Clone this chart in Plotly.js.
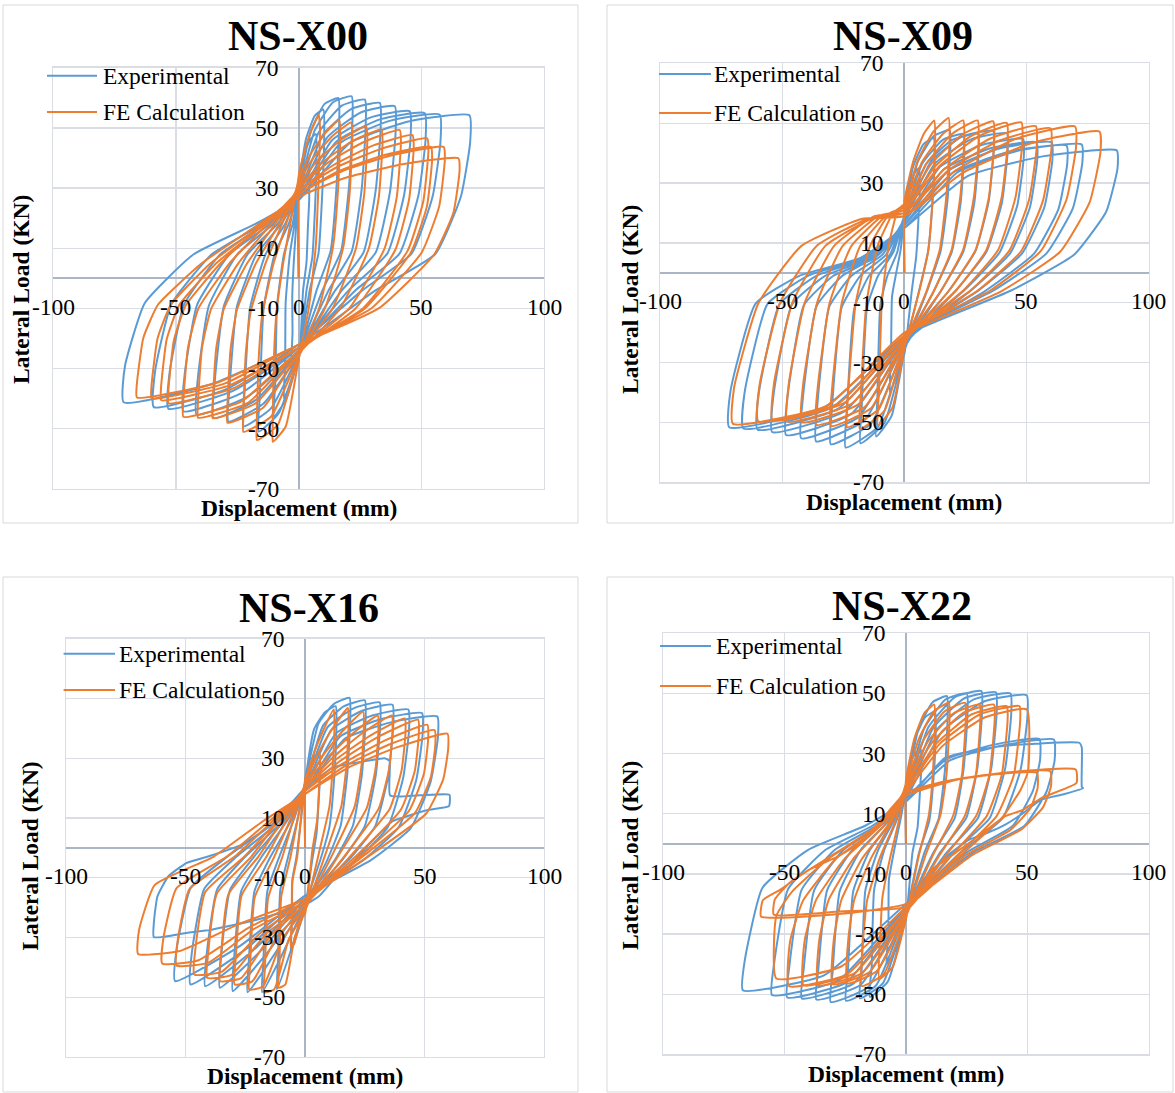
<!DOCTYPE html>
<html>
<head>
<meta charset="utf-8">
<script src="https://cdn.plot.ly/plotly-3.0.1.min.js"></script>
<style>
  html, body { margin: 0; padding: 0; background: #ffffff; }
  #chart { width: 1175px; height: 1093px; }
</style>
</head>
<body>
<div id="chart"></div>
<script>
// ---------- axis ticks, titles, series names ----------
const xTicks = [-100, -50, 0, 50, 100];
const yTicks = [-70, -50, -30, -10, 10, 30, 50, 70];
const specimens = ['NS-X00', 'NS-X09', 'NS-X16', 'NS-X22'];
const seriesNames = ['Experimental', 'FE Calculation'];
const xTitleText = 'Displacement (mm)';
const yTitleText = 'Lateral Load (KN)';

// ---------- hysteresis curves: [displacement (mm), lateral load (kN)] ----------
// NS-X00, experimental
const x00Exp = [
  [0,0],
  [0,33],[1.2,34.5],[2.6,34],[4,35],[4.3,26],[3.8,17.5],[3.2,5.3],[1.8,-4],[0,-27],[-1.5,-26],[-3,-30],[-2.5,-18],[-2.6,-6],[-1.8,8],[-0.8,20],
  [0,32],[2.1,41],[4.6,46],[7,48],[7.3,39],[6.7,24],[5.6,7.2],[3.2,-4],[0,-27],[-3,-34],[-6,-40],[-5.5,-28],[-5.3,-8],[-3.6,8],[-1.5,19],
  [0,31],[3,46.3],[6.6,54.1],[10.1,56.1],[10.4,47.1],[9.6,28],[8.1,8.4],[4.5,-4],[0,-26],[-5,-40],[-10,-46],[-9.5,-34],[-8.8,-9.2],[-6,8],[-2.5,18],
  [0,30],[4.9,48.7],[10.5,57.9],[16.2,59.9],[16.5,50.9],[15.4,30],[13,9],[7.3,-4],[0,-26],[-8.2,-44.9],[-16.3,-50.9],[-15.8,-38.9],[-14.3,-10.2],[-9.8,8],[-4.1,18],
  [0,29],[6.5,49.1],[14,58.5],[21.6,60.5],[21.9,51.5],[20.5,30.3],[17.3,9.1],[9.7,-4],[0,-25],[-11.3,-43.2],[-22.5,-49.2],[-22,-37.2],[-19.8,-9.8],[-13.5,8],[-5.6,18],
  [0,29],[8.1,48.4],[17.6,57.4],[27,59.4],[27.3,50.4],[25.7,29.7],[21.6,8.9],[12.2,-4],[0,-25],[-14.3,-41.6],[-28.6,-47.6],[-28.1,-35.6],[-25.2,-9.5],[-17.2,8],[-7.2,18],
  [0,28],[9.9,47.7],[21.5,56.3],[33.1,58.3],[33.4,49.3],[31.4,29.2],[26.5,8.7],[14.9,-4],[0,-24],[-17.4,-40.4],[-34.7,-46.4],[-34.2,-34.4],[-30.5,-9.3],[-20.8,8],[-8.7,18],
  [0,28],[11.8,47],[25.5,55.2],[39.2,57.2],[39.5,48.2],[37.2,28.6],[31.4,8.6],[17.6,-4],[0,-24],[-20.8,-39.3],[-41.6,-45.3],[-41.1,-33.3],[-36.6,-9.1],[-25,8],[-10.4,18],
  [0,27],[13.6,45.9],[29.4,53.5],[45.3,55.5],[45.6,46.5],[43,27.8],[36.2,8.3],[20.4,-4],[0,-23],[-23.5,-38.2],[-47,-44.2],[-46.5,-32.2],[-41.4,-8.8],[-28.2,8],[-11.8,18],
  [0,27],[15.4,45.5],[33.4,52.9],[51.4,54.9],[51.7,45.9],[48.8,27.5],[41.1,8.2],[23.1,-4],[0,-23],[-26.6,-37.3],[-53.1,-43.3],[-52.6,-31.3],[-46.7,-8.7],[-31.9,8],[-13.3,18],
  [0,26],[17.3,45.2],[37.4,52.4],[57.5,54.4],[57.8,45.4],[54.6,27.2],[46,8.2],[25.9,-4],[0,-22],[-29.5,-36.8],[-59,-42.8],[-58.5,-30.8],[-51.9,-8.6],[-35.4,8],[-14.8,18],
  [0,26],[20.9,45],[45.2,52.2],[69.6,54.2],[69.9,45.2],[66.1,27.1],[55.7,8.1],[31.3,-4],[0,-22],[-35.7,-35.2],[-71.3,-41.2],[-70.8,-29.2],[-62.7,-8.2],[-42.8,8],[-17.8,18],[0,26]
];
// NS-X00, FE calculation
const x00Fe = [
  [0,0],
  [0,34],[2.5,42.5],[5.3,49.4],[8.2,54.3],[8.7,50.3],[8,29.9],[7,10.9],[4.1,-10],[0,-27],[-5.3,-49.3],[-10.5,-54.3],[-10.6,-50.3],[-10.1,-27.2],[-9.1,-11.9],[-6.3,5],[-3.2,19],
  [0,33],[5,41.5],[10.7,48.1],[16.5,52.6],[17,48.6],[16,28.9],[14,10.5],[8.3,-10],[0,-26],[-8.5,-48.7],[-17,-53.7],[-17.1,-49.7],[-16.3,-26.9],[-14.8,-11.8],[-10.2,5],[-5.1,18],
  [0,32],[6.4,40.5],[13.9,47.4],[21.4,51.8],[21.9,47.8],[20.8,28.5],[18.2,10.4],[10.7,-10],[0,-26],[-11.3,-46],[-22.5,-51],[-22.6,-47],[-21.6,-25.5],[-19.6,-11.2],[-13.5,5],[-6.8,18],
  [0,31],[8.3,39.7],[17.9,46.4],[27.5,50.5],[28,46.5],[26.7,27.8],[23.4,10.1],[13.8,-10],[0,-25],[-14.5,-43],[-29,-48],[-29.1,-44],[-27.8,-24],[-25.2,-10.6],[-17.4,5],[-8.7,17],
  [0,30],[10.1,38.8],[21.9,45.6],[33.7,49.5],[34.2,45.5],[32.7,27.2],[28.6,9.9],[16.9,-10],[0,-25],[-17.5,-41.5],[-35,-46.5],[-35.1,-42.5],[-33.6,-23.3],[-30.5,-10.2],[-21,5],[-10.5,17],
  [0,30],[12.4,38.7],[26.8,45.4],[41.2,49.3],[41.7,45.3],[40,27.1],[35,9.9],[20.6,-10],[0,-24],[-20.5,-41.3],[-41,-46.3],[-41.1,-42.3],[-39.4,-23.2],[-35.7,-10.2],[-24.6,5],[-12.3,17],
  [0,29],[13.9,37.5],[30.2,44.1],[46.4,47.6],[46.9,43.6],[45,26.2],[39.4,9.5],[23.2,-10],[0,-24],[-23.5,-41],[-47,-46],[-47.1,-42],[-45.1,-23],[-40.9,-10.1],[-28.2,5],[-14.1,17],
  [0,29],[15.7,37],[34.1,43.2],[52.4,46.5],[52.9,42.5],[50.8,25.6],[44.5,9.3],[26.2,-10],[0,-23],[-26.5,-36.5],[-53,-41.5],[-53.1,-37.5],[-50.9,-20.8],[-46.1,-9.1],[-31.8,5],[-15.9,17],
  [0,28],[16.2,35.6],[35,41],[53.9,43.7],[54.4,39.7],[52.3,24],[45.8,8.7],[27,-10],[0,-23],[-28,-35.5],[-56,-40.5],[-56.1,-36.5],[-53.8,-20.3],[-48.7,-8.9],[-33.6,5],[-16.8,16],
  [0,28],[17.7,35.6],[38.4,41],[59.1,43.7],[59.6,39.7],[57.3,24],[50.2,8.7],[29.6,-10],[0,-22],[-30,-34.9],[-59.9,-39.9],[-60,-35.9],[-57.5,-20],[-52.1,-8.8],[-35.9,5],[-18,16],
  [0,27],[19.5,33.5],[42.3,37.9],[65.1,39.9],[65.6,35.9],[63.1,21.9],[55.3,8],[32.6,-10],[0,-22],[-33,-34.6],[-65.9,-39.6],[-66,-35.6],[-63.3,-19.8],[-57.3,-8.7],[-39.5,5],[-19.8,16],[0,27]
];
// NS-X09, experimental
const x09Exp = [
  [0,0],
  [0,21],[1.8,30],[3.9,33],[6,35],[6.3,29],[5.7,17.5],[4.8,5.3],[3,-6],[0,-27],[-2.7,-33],[-6,-40],[-5.5,-28],[-5.1,-8],[-3.6,-1],[-1.5,8],
  [0,20],[3.6,35.6],[7.8,43],[12,45],[12.3,39],[11.4,22.5],[9.6,6.8],[6,-6],[0,-26],[-5.2,-47.7],[-11.6,-54.7],[-11.1,-42.7],[-9.9,-10.9],[-7,-1],[-2.9,7],
  [0,20],[5.6,37.3],[12,45.7],[18.5,47.7],[18.8,41.7],[17.6,23.9],[14.8,7.2],[9.3,-6],[0,-26],[-8.1,-50],[-18,-57],[-17.5,-45],[-15.3,-11.4],[-10.8,-1],[-4.5,7],
  [0,19],[7.3,36.5],[15.7,44.4],[24.2,46.4],[24.5,40.4],[23,23.2],[19.4,7],[12.1,-6],[0,-25],[-10.8,-51.4],[-24.1,-58.4],[-23.6,-46.4],[-20.5,-11.7],[-14.5,-1],[-6,6],
  [0,19],[9,36.5],[19.6,44.4],[30.1,46.4],[30.4,40.4],[28.6,23.2],[24.1,7],[15,-6],[0,-25],[-13.6,-50.3],[-30.2,-57.3],[-29.7,-45.3],[-25.7,-11.5],[-18.1,-1],[-7.6,6],
  [0,18],[10.9,37.2],[23.6,45.5],[36.3,47.5],[36.6,41.5],[34.5,23.8],[29,7.1],[18.2,-6],[0,-24],[-16.3,-49.3],[-36.2,-56.3],[-35.7,-44.3],[-30.8,-11.3],[-21.7,-1],[-9.1,6],
  [0,18],[12.6,36.6],[27.3,44.6],[42,46.6],[42.3,40.6],[39.9,23.3],[33.6,7],[21,-6],[0,-24],[-19,-48.3],[-42.3,-55.3],[-41.8,-43.3],[-36,-11.1],[-25.4,-1],[-10.6,6],
  [0,17],[14.6,35.4],[31.6,42.7],[48.6,44.7],[48.9,38.7],[46.2,22.4],[38.9,6.7],[24.3,-6],[0,-23],[-21.8,-47.2],[-48.5,-54.2],[-48,-42.2],[-41.2,-10.8],[-29.1,-1],[-12.1,5],
  [0,17],[16.2,34.6],[35.2,41.6],[54.1,43.6],[54.4,37.6],[51.4,21.8],[43.3,6.5],[27.1,-6],[0,-23],[-24.4,-46.2],[-54.2,-53.2],[-53.7,-41.2],[-46.1,-10.6],[-32.5,-1],[-13.6,5],
  [0,16],[18.1,34.2],[39.2,41.6],[60.3,43.6],[60.6,37.6],[57.3,21.8],[48.2,6.5],[30.2,-6],[0,-22],[-27.1,-45.4],[-60.2,-52.4],[-59.7,-40.4],[-51.2,-10.5],[-36.1,-1],[-15.1,5],
  [0,16],[19.9,33.5],[43.2,40.5],[66.4,42.5],[66.7,36.5],[63.1,21.3],[53.1,6.4],[33.2,-6],[0,-22],[-29.7,-45],[-66,-52],[-65.5,-40],[-56.1,-10.4],[-39.6,-1],[-16.5,5],
  [0,15],[21.8,33.6],[47.2,40.9],[72.6,42.9],[72.9,36.9],[69,21.5],[58.1,6.4],[36.3,-6],[0,-21],[-32.3,-44.6],[-71.8,-51.6],[-71.3,-39.6],[-61,-10.3],[-43.1,-1],[-18,5],
  [0,15],[26.1,32.4],[56.6,38.9],[87,40.9],[87.3,34.9],[82.7,20.5],[69.6,6.1],[43.5,-6],[0,-21],[-10.9,-30]
];
// NS-X09, FE calculation
const x09Fe = [
  [0,0],
  [0,24],[3.7,37.5],[7.9,46.4],[12.2,50.9],[12.6,43.9],[11.6,25.5],[9.8,7.6],[6.1,-6],[0,-25],[-4.9,-45],[-10.9,-51],[-10.4,-39],[-9.3,-10.2],[-6.5,9],[-2.7,21],
  [0,23],[5.4,37.4],[11.8,47.1],[18.1,51.7],[18.5,44.7],[17.2,25.9],[14.5,7.8],[9.1,-6],[0,-24],[-8.2,-46.1],[-18.3,-52.1],[-17.8,-40.1],[-15.6,-10.4],[-11,9],[-4.6,20],
  [0,23],[7.2,37],[15.7,46.4],[24.1,50.9],[24.5,43.9],[22.9,25.5],[19.3,7.6],[12.1,-6],[0,-24],[-10.6,-45.6],[-23.5,-51.6],[-23,-39.6],[-20,-10.3],[-14.1,9],[-5.9,20],
  [0,22],[9,36.5],[19.5,46.4],[30,50.9],[30.4,43.9],[28.5,25.5],[24,7.6],[15,-6],[0,-23],[-13.6,-45.2],[-30.2,-51.2],[-29.7,-39.2],[-25.7,-10.2],[-18.1,9],[-7.6,19],
  [0,22],[10.9,36.3],[23.7,46.2],[36.4,50.6],[36.8,43.6],[34.6,25.3],[29.1,7.6],[18.2,-6],[0,-23],[-16.2,-44.8],[-36.1,-50.8],[-35.6,-38.8],[-30.7,-10.2],[-21.7,9],[-9,19],
  [0,21],[12.6,35.6],[27.2,45.7],[41.9,50.1],[42.3,43.1],[39.8,25.1],[33.5,7.5],[21,-6],[0,-22],[-18.9,-43.9],[-42.1,-49.9],[-41.6,-37.9],[-35.8,-10],[-25.3,9],[-10.5,19],
  [0,21],[14.4,35.7],[31.1,45.9],[47.9,50.3],[48.3,43.3],[45.5,25.2],[38.3,7.5],[24,-6],[0,-22],[-21.6,-43.7],[-48,-49.7],[-47.5,-37.7],[-40.8,-9.9],[-28.8,9],[-12,19],
  [0,20],[16.1,34.5],[35,44.8],[53.8,49],[54.2,42],[51.1,24.5],[43,7.4],[26.9,-6],[0,-21],[-24.3,-43.3],[-54,-49.3],[-53.5,-37.3],[-45.9,-9.9],[-32.4,9],[-13.5,18],
  [0,20],[17.9,34.2],[38.9,44.2],[59.8,48.3],[60.2,41.3],[56.8,24.2],[47.8,7.2],[29.9,-6],[0,-21],[-27,-43.6],[-59.9,-49.6],[-59.4,-37.6],[-50.9,-9.9],[-35.9,9],[-15,18],
  [0,19],[21,34.2],[45.4,44.7],[69.9,48.9],[70.3,41.9],[66.4,24.5],[55.9,7.3],[35,-6],[0,-20],[-31.6,-44.4],[-70.3,-50.4],[-69.8,-38.4],[-59.8,-10.1],[-42.2,9],[-17.6,18],
  [0,19],[24,33.5],[51.9,43.3],[79.9,47.2],[80.3,40.2],[75.9,23.6],[63.9,7.1],[40,-6],[0,-20]
];
// NS-X16, experimental
const x16Exp = [
  [0,0],
  [0,23],[1.8,29.5],[3.9,30.5],[6,32],[6.3,25],[5.7,16],[4.8,4.8],[3,-4],[0,-20],[-3,-28],[-6,-35],[-5.5,-25],[-5.3,-10.5],[-3.6,-3],[-1.5,11],
  [0,22],[3.8,39.8],[8.3,45.4],[12.8,47.4],[13.1,40.4],[12.2,23.7],[10.2,7.1],[6.4,-4],[0,-19],[-5.9,-34.2],[-11.8,-47.4],[-11.3,-37.4],[-10.4,-14.2],[-7.1,-3],[-3,10],
  [0,22],[5.6,41.6],[12.1,48.2],[18.6,50.2],[18.9,43.2],[17.7,25.1],[14.9,7.5],[9.3,-4],[0,-19],[-9,-34.7],[-18,-48.3],[-17.5,-38.3],[-15.8,-14.5],[-10.8,-3],[-4.5,10],
  [0,21],[7.5,40.9],[16.3,47.4],[25,49.4],[25.3,42.4],[23.8,24.7],[20,7.4],[12.5,-4],[0,-18],[-12.1,-34.7],[-24.1,-48.3],[-23.6,-38.3],[-21.2,-14.5],[-14.5,-3],[-6,9],
  [0,21],[9.4,40.4],[20.3,46.7],[31.2,48.7],[31.5,41.7],[29.6,24.4],[25,7.3],[15.6,-4],[0,-18],[-15.2,-34.5],[-30.3,-47.9],[-29.8,-37.9],[-26.7,-14.4],[-18.2,-3],[-7.6,9],
  [0,20],[11,39.5],[23.8,45.9],[36.6,47.9],[36.9,40.9],[34.8,24],[29.3,7.2],[18.3,-4],[0,-17],[-17.9,-33.9],[-35.7,-46.8],[-35.2,-36.8],[-31.4,-14],[-21.4,-3],[-8.9,9],
  [0,20],[13,38.4],[28.1,44.3],[43.2,46.3],[43.5,39.3],[41,23.2],[34.6,6.9],[21.6,-4],[0,-17],[-20.9,-33.7],[-41.8,-46.3],[-41.3,-36.3],[-36.8,-13.9],[-25.1,-3],[-10.5,8],
  [0,19],[14.7,37.3],[31.8,43.1],[48.9,45.1],[49.2,38.1],[46.5,22.6],[39.1,6.8],[24.5,-4],[0,-16],[-24,-33.4],[-48,-45.7],[-47.5,-35.7],[-42.2,-13.7],[-28.8,-3],[-12,8],
  [0,19],[16.6,36.5],[35.9,42],[55.3,44],[55.6,37],[52.5,22],[44.2,6.6],[27.7,-4],[0,-16],[-27.2,-32.8],[-54.4,-44.6],[-53.9,-34.6],[-47.9,-13.4],[-32.6,-3],[-13.6,8],
  [0,20],[12,27],[25,29],[33.3,30],[35.4,29],[35.6,17.5],[48,17.6],[60.4,17.8],[60.6,15.5],[60.2,13.9],[51,12.6],[42.7,10.6],[36.6,8.9],[27.4,1.7],[19.7,-5],[12,-10.6],[5.8,-16.2],[0,-19],
  [-20,-24],[-38.7,-27.3],[-50,-28.5],[-63.3,-29.9],[-63.3,-25],[-61.8,-16.2],[-57.2,-9.5],[-49.5,-5],[-40.3,-2.8],[-26.4,1.1],[-12,9],[0,19]
];
// NS-X16, FE calculation
const x16Fe = [
  [0,0],
  [0,23],[1.8,26.5],[3.9,29.5],[6,32],[6.3,27],[5.8,19.2],[5.1,9.6],[3,-1],[0,-22],[-2.4,-24.6],[-4.5,-32],[-6,-33],[-5.6,-25],[-5.4,-11.6],[-3.3,-3],[-1.5,12],
  [0,22],[3.6,31.5],[7.8,39.7],[12,46.3],[12.3,41.3],[11.6,27.8],[10.2,13.9],[6,-1],[0,-21],[-4.4,-30.1],[-8.3,-45.8],[-11.1,-46.8],[-10.7,-38.8],[-10,-16.4],[-6.1,-3],[-2.8,11],
  [0,22],[5.4,31.5],[11.6,40.1],[17.9,46.8],[18.2,41.8],[17.4,28.1],[15.2,14],[9,-1],[0,-21],[-6.9,-30.7],[-12.9,-47.3],[-17.2,-48.3],[-16.8,-40.3],[-15.5,-16.9],[-9.5,-3],[-4.3,11],
  [0,21],[7.3,30.7],[15.8,39.2],[24.3,45.6],[24.6,40.6],[23.6,27.4],[20.7,13.7],[12.2,-1],[0,-20],[-9.4,-30.4],[-17.6,-46.4],[-23.4,-47.4],[-23,-39.4],[-21.1,-16.6],[-12.9,-3],[-5.9,10],
  [0,21],[9.1,30],[19.8,38.2],[30.4,44.3],[30.7,39.3],[29.5,26.6],[25.8,13.3],[15.2,-1],[0,-20],[-11.8,-29.7],[-22.1,-44.7],[-29.5,-45.7],[-29.1,-37.7],[-26.6,-16],[-16.2,-3],[-7.4,10],
  [0,20],[10.9,29.7],[23.6,38.2],[36.3,44.3],[36.6,39.3],[35.2,26.6],[30.9,13.3],[18.2,-1],[0,-19],[-14.3,-29.2],[-26.8,-43.6],[-35.7,-44.6],[-35.3,-36.6],[-32.1,-15.6],[-19.6,-3],[-8.9,10],
  [0,20],[12.5,29.3],[27.1,37.5],[41.7,43.3],[42,38.3],[40.4,26],[35.4,13],[20.9,-1],[0,-19],[-16.4,-28.8],[-30.8,-42.5],[-41,-43.5],[-40.6,-35.5],[-36.9,-15.2],[-22.6,-3],[-10.3,10],
  [0,19],[14.2,28.8],[30.7,37.2],[47.3,42.9],[47.6,37.9],[45.9,25.7],[40.2,12.9],[23.7,-1],[0,-18],[-18.6,-28.4],[-34.8,-41.4],[-46.4,-42.4],[-46,-34.4],[-41.8,-14.8],[-25.5,-3],[-11.6,9],
  [0,19],[15.4,28],[33.3,35.9],[51.2,41.2],[51.5,36.2],[49.7,24.7],[43.5,12.4],[25.6,-1],[0,-18],[-21.5,-27.2],[-40.4,-38.4],[-53.8,-39.4],[-53.4,-31.4],[-48.4,-13.8],[-29.6,-3],[-13.5,9],
  [0,18],[16.3,27.2],[35.2,34.6],[54.2,39.4],[54.5,34.4],[52.6,23.6],[46.1,11.8],[27.1,-1],[0,-17],[-23.9,-26.9],[-44.9,-37.7],[-59.8,-38.7],[-59.4,-30.7],[-53.8,-13.5],[-32.9,-3],[-15,9],
  [0,18],[17.9,26.8],[38.7,33.7],[59.6,38.2],[59.9,33.2],[57.8,22.9],[50.7,11.5],[29.8,-1],[0,-17],[-28,-25.6],[-52.4,-34.5],[-69.9,-35.5],[-69.5,-27.5],[-62.9,-12.4],[-38.4,-3],[-17.5,9],[0,18]
];
// NS-X22, experimental
const x22Exp = [
  [0,0],
  [0,19],[1.8,27.5],[3.9,30],[6,32],[6.3,25],[5.7,16],[4.8,5.4],[2.7,-3],[0,-25],[-4,-35],[-8,-40],[-7.2,-30],[-7,-12],[-4.8,-2],[-2,9],
  [0,18],[3.6,34.5],[7.8,42],[12,44],[12.3,37],[11.4,22],[9.6,7.5],[5.4,-3],[0,-24],[-7.5,-45.9],[-14.9,-50.9],[-14.1,-40.9],[-13.1,-15.3],[-8.9,-2],[-3.7,8],
  [0,18],[5.1,38],[11,47.1],[16.9,49.1],[17.2,42.1],[16.1,24.6],[13.5,8.3],[7.6,-3],[0,-24],[-9.5,-46.4],[-19,-51.4],[-18.2,-41.4],[-16.7,-15.4],[-11.4,-2],[-4.8,8],
  [0,17],[7.5,38.3],[16.3,48],[25.1,50],[25.4,43],[23.8,25],[20.1,8.5],[11.3,-3],[0,-23],[-12.4,-47.2],[-24.7,-52.2],[-23.9,-42.2],[-21.7,-15.7],[-14.8,-2],[-6.2,7],
  [0,17],[9.3,38.8],[20.2,48.8],[31.1,50.8],[31.4,43.8],[29.5,25.4],[24.9,8.6],[14,-3],[0,-23],[-15.5,-47.6],[-31,-52.6],[-30.2,-42.6],[-27.3,-15.8],[-18.6,-2],[-7.8,7],
  [0,16],[11.1,38.4],[24.1,48.4],[37.1,50.4],[37.4,43.4],[35.2,25.2],[29.7,8.6],[16.7,-3],[0,-22],[-18.5,-46.8],[-36.9,-51.8],[-36.1,-41.8],[-32.5,-15.5],[-22.1,-2],[-9.2,7],
  [0,16],[12.9,38.1],[28,48],[43.1,50],[43.4,43],[40.9,25],[34.5,8.5],[19.4,-3],[0,-22],[-21.5,-46.4],[-42.9,-51.4],[-42.1,-41.4],[-37.8,-15.4],[-25.7,-2],[-10.7,6],
  [0,15],[14.9,37.4],[32.4,47.4],[49.8,49.4],[50.1,42.4],[47.3,24.7],[39.8,8.4],[22.4,-3],[0,-21],[-24.5,-46.1],[-48.9,-51.1],[-48.1,-41.1],[-43,-15.3],[-29.3,-2],[-12.2,6],
  [0,15],[16.5,28],[35.8,32.9],[55,34.9],[55.3,27.9],[52.3,17.5],[44,5.9],[24.8,-3],[0,-21],[-27.6,-45.3],[-55.2,-50.3],[-54.4,-40.3],[-48.6,-15.1],[-33.1,-2],[-13.8,6],
  [0,14],[18.3,27.8],[39.7,32.7],[61,34.7],[61.3,27.7],[58,17.4],[48.8,5.9],[27.5,-3],[0,-20],[-33.6,-43.7],[-67.2,-48.7],[-66.4,-38.7],[-59.1,-14.6],[-40.3,-2],[-16.8,6],
  [0,14],[16,28.5],[40,32.5],[71.5,33.6],[72.5,32],[72.5,19],[73,18.5],[65,16.5],[55.8,14.7],[48.3,10.2],[40.8,6.3],[33.4,3.6],[25.9,1.3],[18.4,-3.1],[10.9,-8.7],[4.9,-14.2],[1.2,-19.8]
];
// NS-X22, FE calculation
const x22Fe = [
  [0,0],
  [0,21],[3.5,35],[7.6,43.5],[11.7,46.3],[12,41.3],[11.1,23.2],[9.4,9.3],[5.3,-4],[0,-25],[-5.5,-41],[-11,-45],[-10.5,-30],[-9.7,-18],[-6.6,-5],[-2.8,8],
  [0,20],[5.3,34.8],[11.5,44],[17.7,46.9],[18,41.9],[16.8,23.5],[14.2,9.4],[8,-4],[0,-24],[-9.1,-43.3],[-18.2,-47.3],[-17.7,-32.3],[-16,-18.9],[-10.9,-5],[-4.6,7],
  [0,20],[7.3,34.6],[15.9,44],[24.4,46.9],[24.7,41.9],[23.2,23.5],[19.5,9.4],[11,-4],[0,-24],[-12.1,-42.4],[-24.2,-46.4],[-23.7,-31.4],[-21.3,-18.6],[-14.5,-5],[-6.1,7],
  [0,19],[9.1,34],[19.8,43.5],[30.4,46.3],[30.7,41.3],[28.9,23.2],[24.3,9.3],[13.7,-4],[0,-23],[-15.1,-42.7],[-30.2,-46.7],[-29.7,-31.7],[-26.6,-18.7],[-18.1,-5],[-7.6,6],
  [0,19],[10.9,33.8],[23.6,43.5],[36.3,46.3],[36.6,41.3],[34.5,23.2],[29,9.3],[16.3,-4],[0,-23],[-18.1,-43],[-36.2,-47],[-35.7,-32],[-31.9,-18.8],[-21.7,-5],[-9.1,6],
  [0,18],[12.5,33.3],[27,43],[41.6,45.8],[41.9,40.8],[39.5,22.9],[33.3,9.2],[18.7,-4],[0,-22],[-21.1,-43],[-42.2,-47],[-41.7,-32],[-37.1,-18.8],[-25.3,-5],[-10.6,6],
  [0,18],[14,33.3],[30.4,43],[46.8,45.8],[47.1,40.8],[44.5,22.9],[37.4,9.2],[21.1,-4],[0,-22],[-24.1,-43.3],[-48.2,-47.3],[-47.7,-32.3],[-42.4,-18.9],[-28.9,-5],[-12.1,5],
  [0,17],[14.9,32.4],[32.4,42],[49.8,44.7],[50.3,24],[47.3,18],[39.8,8.9],[22.4,-4],[0,-21],[-26.7,-40.8],[-53.4,-44.8],[-53.4,-24],[-47,-16],[-32,-5],[-13.4,5],
  [0,17],[16.2,20.8],[35.1,23],[54,23.6],[54.3,18.6],[51.3,11.8],[43.2,4.7],[24.3,-4],[0,-21],[-27.3,-22.5],[-54.5,-23.5],[-54,-18.5],[-48,-13],[-32.7,-5],[-13.6,5],
  [0,16],[17.9,21],[38.7,23.5],[59.5,24.1],[59.8,19.1],[56.5,12.1],[47.6,4.8],[26.8,-4],[0,-20],[-29.9,-23.5],[-59.7,-24.2],[-58.9,-18.7],[-51.9,-15.3],[-40,-8.7],[-28,-4.2],[-19,0.2],[-10,6.9],[-4,12.4],
  [0,16],[21,21.3],[45.5,24],[70,24.7],[70.3,20.2],[55.8,15.2],[48.3,11.3],[40.8,9.1],[33.4,4.7],[25.9,0.2],[18.4,-4.2],[10.9,-8.7],[6.4,-16.4],[1.9,-20.9]
];

const expSeries = [x00Exp, x09Exp, x16Exp, x22Exp];
const feSeries  = [x00Fe,  x09Fe,  x16Fe,  x22Fe];

// ---------- page geometry (pixels) ----------
const W = 1175, H = 1093;
const panels = [
  { frame: [3, 5, 578, 523],       plot: [53.3, 67.7, 544, 489],       title: [298, 36],  xTitle: [299, 508],  yTitle: [21, 290],   leg: { x0: 47,   x1: 97,  y: [75.7, 112],  tx: 101 } },
  { frame: [607, 5, 1173, 523],    plot: [660.4, 63.3, 1148.5, 482.3], title: [903, 36],  xTitle: [904, 502],  yTitle: [630, 300],  leg: { x0: 659,  x1: 711, y: [74, 113],    tx: 712 } },
  { frame: [3, 577, 578, 1092],    plot: [66.2, 638.7, 544, 1057],     title: [309, 608], xTitle: [305, 1076], yTitle: [29.6, 856], leg: { x0: 63.6, x1: 115, y: [653.7, 690], tx: 117 } },
  { frame: [607, 577, 1173, 1092], plot: [663.3, 633.3, 1148.5, 1054.3], title: [902, 606], xTitle: [906, 1074], yTitle: [630, 856], leg: { x0: 660,  x1: 711, y: [646, 686],   tx: 714 } }
];

const FONT = '"Liberation Serif", "Times New Roman", Times, serif';
const BLUE = '#5B9BD5', ORANGE = '#ED7D31';
const GRID = '#dadde3', AXIS = '#aab5c6', FRAME = '#d9d9d9';
const px = x => x / W;
const py = y => 1 - y / H;

const traces = [];
const layout = {
  width: W, height: H,
  margin: { l: 0, r: 0, t: 0, b: 0 },
  paper_bgcolor: '#ffffff', plot_bgcolor: 'rgba(0,0,0,0)',
  showlegend: false,
  shapes: [], annotations: []
};

const tickFont = { family: FONT, size: 23.5, color: '#000000' };
const legFont = { family: FONT, size: 23.5, color: '#000000' };
const axTitleFont = { family: FONT, size: 23.5, color: '#000000', weight: 'bold' };
const titleFont = { family: FONT, size: 42, color: '#000000', weight: 'bold' };

// text placed in page pixels, centred unless told otherwise
function pageText(text, x, y, font, extra) {
  return Object.assign({
    xref: 'paper', yref: 'paper', x: px(x), y: py(y), text: text,
    showarrow: false, xanchor: 'center', yanchor: 'middle', font: font
  }, extra || {});
}

panels.forEach((p, i) => {
  const s = i === 0 ? '' : String(i + 1);
  const xa = 'xaxis' + s, ya = 'yaxis' + s;
  const common = {
    showticklabels: false, ticks: '',
    showgrid: true, gridcolor: GRID, gridwidth: 1.3,
    zeroline: true, zerolinecolor: AXIS, zerolinewidth: 2,
    showline: true, mirror: true, linecolor: GRID, linewidth: 1.3,
    fixedrange: true
  };
  layout[xa] = Object.assign({}, common, {
    domain: [px(p.plot[0]), px(p.plot[2])], range: [-100, 100],
    tickmode: 'array', tickvals: xTicks, anchor: 'y' + s
  });
  layout[ya] = Object.assign({}, common, {
    domain: [py(p.plot[3]), py(p.plot[1])], range: [-70, 70],
    tickmode: 'array', tickvals: yTicks, anchor: 'x' + s
  });

  // curves: experimental first, FE calculation drawn above it
  [[expSeries[i], BLUE, seriesNames[0]], [feSeries[i], ORANGE, seriesNames[1]]].forEach(([pts, col, nm]) => {
    traces.push({
      type: 'scatter', mode: 'lines', name: nm,
      x: pts.map(q => q[0]), y: pts.map(q => q[1]),
      xaxis: 'x' + s, yaxis: 'y' + s,
      line: { color: col, width: 2, shape: 'spline', smoothing: 0.45 },
      hoverinfo: 'skip'
    });
  });

  // panel frame
  layout.shapes.push({
    type: 'rect', xref: 'paper', yref: 'paper',
    x0: px(p.frame[0]), x1: px(p.frame[2]), y0: py(p.frame[3]), y1: py(p.frame[1]),
    line: { color: FRAME, width: 1 }, fillcolor: 'rgba(0,0,0,0)', layer: 'below'
  });

  // tick labels sit on the axes that cross at zero
  xTicks.forEach(t => layout.annotations.push({
    xref: 'x' + s, yref: 'y' + s, x: t, y: 0, text: String(t),
    showarrow: false, xanchor: 'center', yanchor: 'middle', yshift: -28.5, font: tickFont
  }));
  yTicks.forEach(t => layout.annotations.push({
    xref: 'x' + s, yref: 'y' + s, x: 0, y: t, text: String(t),
    showarrow: false, xanchor: 'right', yanchor: 'middle', xshift: -18, font: tickFont
  }));

  // chart title and axis titles
  layout.annotations.push(pageText(specimens[i], p.title[0], p.title[1], titleFont));
  layout.annotations.push(pageText(xTitleText, p.xTitle[0], p.xTitle[1], axTitleFont));
  layout.annotations.push(pageText(yTitleText, p.yTitle[0], p.yTitle[1], axTitleFont, { textangle: -90 }));

  // legend entries
  [BLUE, ORANGE].forEach((col, k) => {
    layout.shapes.push({
      type: 'line', xref: 'paper', yref: 'paper',
      x0: px(p.leg.x0), x1: px(p.leg.x1), y0: py(p.leg.y[k]), y1: py(p.leg.y[k]),
      line: { color: col, width: 2 }
    });
    layout.annotations.push(pageText(seriesNames[k], p.leg.tx, p.leg.y[k], legFont, { xanchor: 'left' }));
  });
});

Plotly.newPlot('chart', traces, layout, { staticPlot: true, displayModeBar: false });
</script>
</body>
</html>
